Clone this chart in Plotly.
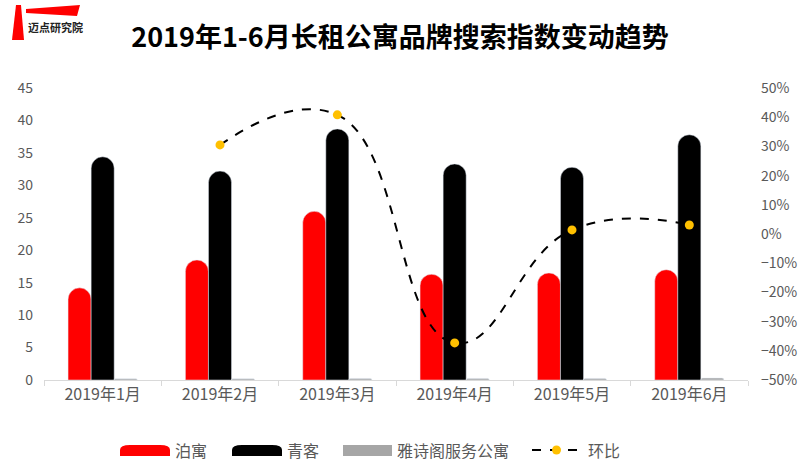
import plotly.graph_objects as go

months = ['2019年1月', '2019年2月', '2019年3月', '2019年4月', '2019年5月', '2019年6月']
bohai = [14.2, 18.5, 26.0, 16.3, 16.5, 17.0]
qingke = [34.4, 32.2, 38.7, 33.3, 32.8, 37.8]
yashige = [0.2, 0.2, 0.25, 0.25, 0.25, 0.3]
huanbi = [None, 0.305, 0.408, -0.373, 0.014, 0.031]

FONT = "Noto Sans CJK SC"
GREY = "#595959"
W, H = 800, 466
L, R, T, B = 44, 52, 88, 86


def px(x):
    # pixel -> paper x
    return (x - L) / (W - L - R)


def py(y):
    # pixel -> paper y
    return (H - B - y) / (H - T - B)


fig = go.Figure()
fig.add_trace(go.Bar(x=months, y=bohai, name='泊寓', marker_color='#FF0000'))
fig.add_trace(go.Bar(x=months, y=qingke, name='青客', marker_color='#000000'))
fig.add_trace(go.Bar(x=months, y=yashige, name='雅诗阁服务公寓', marker_color='#A6A6A6'))
fig.add_trace(go.Scatter(
    x=months, y=huanbi, name='环比', yaxis='y2', mode='lines+markers',
    line=dict(color='black', width=2, dash='dash', shape='spline', smoothing=1.3),
    marker=dict(color='#FFC000', size=9),
))

# logo
fig.add_shape(type='path', xref='paper', yref='paper', fillcolor='#FF0000', line_width=0,
              path=f'M {px(16)} {py(5)} L {px(21)} {py(5)} L {px(24)} {py(40)} L {px(12)} {py(40)} Z')
fig.add_shape(type='path', xref='paper', yref='paper', fillcolor='#FF0000', line_width=0,
              path=f'M {px(26)} {py(9)} L {px(80)} {py(5)} L {px(77)} {py(16)} L {px(26)} {py(13)} Z')
fig.add_annotation(text='<b>迈点研究院</b>', xref='paper', yref='paper',
                   x=px(26), y=py(27), xanchor='left', yanchor='middle',
                   showarrow=False, font=dict(family=FONT, size=11, color='#222222'))


# custom legend
def key_bar(x0, x1, color, rounded=True):
    y0, y1 = 456, 445
    if rounded:
        r = 5
        path = (f'M {px(x0)} {py(y0)} L {px(x0)} {py(y1 + r)} Q {px(x0)} {py(y1)} {px(x0 + r * 2)} {py(y1)} '
                f'L {px(x1 - r * 2)} {py(y1)} Q {px(x1)} {py(y1)} {px(x1)} {py(y1 + r)} L {px(x1)} {py(y0)} Z')
        fig.add_shape(type='path', xref='paper', yref='paper', fillcolor=color, line_width=0, path=path)
    else:
        fig.add_shape(type='rect', xref='paper', yref='paper', fillcolor=color, line_width=0,
                      x0=px(x0), x1=px(x1), y0=py(y0), y1=py(y1))


def key_text(x, text):
    fig.add_annotation(text=text, xref='paper', yref='paper', x=px(x), y=py(450),
                       xanchor='left', yanchor='middle', showarrow=False,
                       font=dict(family=FONT, size=16, color=GREY))


key_bar(120, 170, '#FF0000')
key_text(173, '泊寓')
key_bar(232, 282, '#000000')
key_text(285, '青客')
key_bar(343, 392, '#A6A6A6', rounded=False)
key_text(395, '雅诗阁服务公寓')
fig.add_shape(type='line', xref='paper', yref='paper', x0=px(532), x1=px(577), y0=py(450), y1=py(450),
              line=dict(color='black', width=2, dash='dash'))
fig.add_shape(type='circle', xref='paper', yref='paper', fillcolor='#FFC000', line_width=0,
              x0=px(552), x1=px(561), y0=py(454.5), y1=py(445.5))
key_text(586, '环比')

fig.update_layout(
    width=W, height=H,
    paper_bgcolor='white', plot_bgcolor='white',
    font=dict(family=FONT, color=GREY, size=14),
    title=dict(text='<b>2019年1-6月长租公寓品牌搜索指数变动趋势</b>', x=0.5, xanchor='center',
               y=1 - 38 / H, yanchor='middle', font=dict(family=FONT, size=27, color='black')),
    margin=dict(l=L, r=R, t=T, b=B, autoexpand=False),
    barmode='group', bargap=0.41, bargroupgap=0, barcornerradius='50%',
    xaxis=dict(showline=True, linecolor='#D9D9D9', ticks='outside', tickson='boundaries',
               ticklen=5, tickcolor='#D9D9D9', tickfont=dict(size=16, color=GREY)),
    yaxis=dict(range=[0, 45], dtick=5, showgrid=False, zeroline=False, ticklabelstandoff=10,
               tickfont=dict(size=14, color=GREY)),
    yaxis2=dict(range=[-0.5, 0.5], dtick=0.1, tickformat='.0%', overlaying='y',
                side='right', showgrid=False, zeroline=False, ticklabelstandoff=12,
                tickfont=dict(size=14, color=GREY)),
    showlegend=False,
)

fig.write_html("out.html", config={'displayModeBar': False},
               post_script="document.body.style.margin='0';")
